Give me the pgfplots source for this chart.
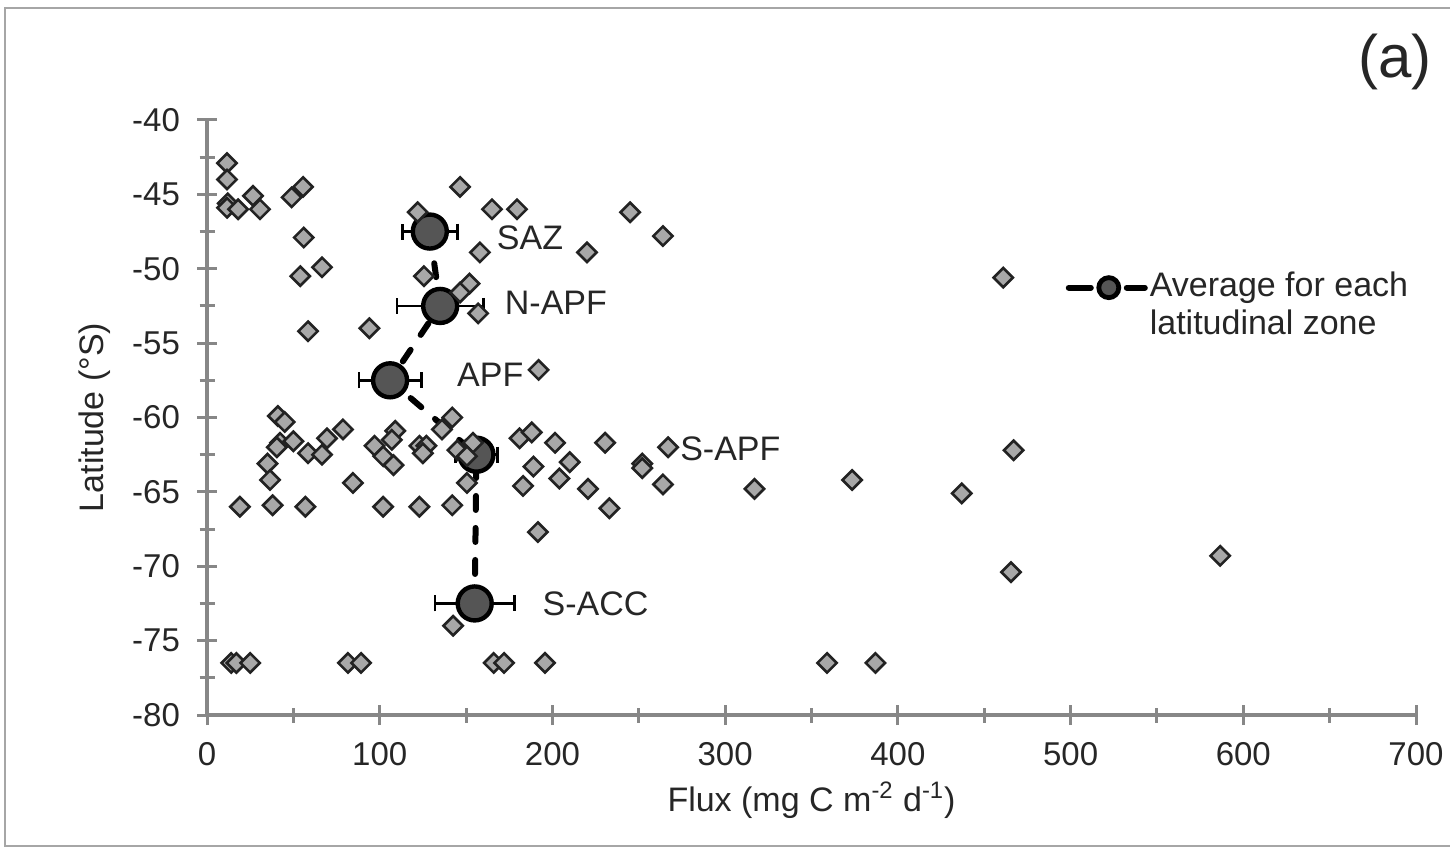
\documentclass[border=0pt]{standalone}
\usepackage{pgfplots}
\pgfplotsset{compat=1.18}
\usepackage{pgfplotstable}
\usepackage{fontspec}
\setmainfont{Liberation Sans}
\definecolor{axgray}{HTML}{878787}
\definecolor{dfill}{HTML}{A8A8A8}
\definecolor{dedge}{HTML}{222222}
\definecolor{afill}{HTML}{555555}
\definecolor{txt}{HTML}{262626}
\pgfplotstableread{
x y
11.6 -42.9
11.6 -44.0
12 -45.6
11.6 -45.9
18 -46.0
26.6 -45.1
30.7 -46.0
49 -45.2
55.6 -44.5
146.5 -44.5
122 -46.2
165 -46.0
179.5 -46.0
245 -46.2
264 -47.8
56 -47.9
158 -48.9
220 -48.9
54 -50.5
66.6 -49.9
125.6 -50.5
152 -51.0
146.5 -51.6
157 -53.0
58.5 -54.2
94 -54.0
461 -50.6
192 -56.8
41 -59.9
45 -60.3
42.3 -61.7
40.5 -62.0
50 -61.6
58.5 -62.4
66.6 -62.5
69.5 -61.4
78.7 -60.8
35 -63.1
36.5 -64.2
19 -66
38 -65.9
57 -66
84.5 -64.4
97 -61.9
102 -62.6
109 -60.9
107 -61.5
108 -63.2
102 -66
123 -61.9
127 -61.9
125 -62.4
123 -66
142 -60
136 -60.8
145 -62.2
154 -61.7
150.5 -62.6
150.5 -64.4
142 -65.9
181 -61.4
188 -61
189 -63.3
183 -64.6
191.6 -67.7
201.5 -61.7
230.5 -61.7
267 -62
210 -63
204 -64.1
220.6 -64.8
252 -63.1
252 -63.4
264 -64.5
233 -66.1
317 -64.8
373.5 -64.2
437 -65.1
467 -62.2
465.5 -70.4
586.6 -69.3
142.5 -74.0
14 -76.5
17 -76.5
25 -76.5
81.6 -76.5
89.2 -76.5
166 -76.5
172 -76.5
195.7 -76.5
359 -76.5
387 -76.5
}\scatterdata
\pgfplotstableread{
x y e
129 -47.5 16
135 -52.5 25
106 -57.5 18
156 -62.5 12
155 -72.5 23
}\avgdata
\begin{document}
\begin{tikzpicture}
\path[use as bounding box] (0,0) rectangle (725pt,425.5pt);
\draw[color=black!35, line width=1pt] (740pt,2.5pt) -- (2.5pt,2.5pt) -- (2.5pt,421.5pt) -- (740pt,421.5pt);
\node[font=\fontsize{30}{32}\selectfont, text=txt] at (697.5pt,394.5pt) {(a)};
\begin{axis}[
  at={(103.5pt,68pt)}, anchor=south west,
  width=604.5pt, height=297.5pt, scale only axis,
  xmin=0, xmax=700, ymin=-80, ymax=-40,
  clip=false,
  axis lines=left,
  axis line style={-, draw=axgray, line width=2pt},
  xtick={0,100,...,700}, ytick={-80,-75,...,-40},
  minor x tick num=1, minor y tick num=1,
  tick align=center,
  major tick length=10pt, minor tick length=7.5pt,
  tick style={draw=axgray, line width=1.5pt},
  ticklabel style={font=\fontsize{16.5}{18}\selectfont, text=txt},
  yticklabel style={xshift=-5pt},
  xticklabel style={yshift=-5pt},
  /pgf/number format/assume math mode=true,
  xlabel={Flux (mg C m\textsuperscript{-2} d\textsuperscript{-1})},
  ylabel={Latitude (°S)},
  label style={font=\fontsize{17}{19}\selectfont, text=txt},
  xlabel style={at={(axis description cs:0.5,-0.1429)}, anchor=center},
  ylabel style={at={(axis description cs:-0.0926,0.5)}, anchor=center},
  legend cell align=left,
  legend style={draw=none, fill=none, at={(axis cs:497,-50)}, anchor=north west,
    inner sep=0pt, row sep=0.5pt,
    font=\fontsize{17}{19}\selectfont, text=txt,
    nodes={inner sep=1pt, text height=12.5pt, text depth=4pt}},
]
\addplot[forget plot, draw=none, mark=none,
  error bars/.cd, x dir=both, x explicit, error mark=|,
  error bar style={draw=black, line width=1.4pt, solid},
  error mark options={draw=black, line width=1.4pt, mark size=4pt}]
  table[x=x, y=y, x error=e] {\avgdata};
\addplot[black, line width=3pt, line cap=round, dash pattern=on 7pt off 9pt,
  mark=*, mark size=8.5pt,
  mark options={solid, fill=afill, draw=black, line width=2.2pt},
  legend image code/.code={
    \draw[black, line width=3pt, solid, line cap=round] (1pt,0pt) -- (12pt,0pt) (30pt,0pt) -- (39pt,0pt);
    \filldraw[fill=afill, draw=black, line width=2.4pt, solid] (21pt,0pt) circle (5pt);
  }]
  table[x=x, y=y] {\avgdata};
\addlegendentry{Average for each}
\addlegendimage{empty legend}
\addlegendentry{latitudinal zone}
\addplot[forget plot, only marks, mark=square*, mark size=3.4pt,
  mark options={rotate=45, fill=dfill, draw=dedge, line width=1.3pt}]
  table[x=x, y=y] {\scatterdata};
\node[font=\fontsize{17}{19}\selectfont, text=txt] at (axis cs:187,-47.9) {SAZ};
\node[font=\fontsize{17}{19}\selectfont, text=txt] at (axis cs:202,-52.3) {N-APF};
\node[font=\fontsize{17}{19}\selectfont, text=txt] at (axis cs:164,-57.1) {APF};
\node[font=\fontsize{17}{19}\selectfont, text=txt] at (axis cs:303,-62.1) {S-APF};
\node[font=\fontsize{17}{19}\selectfont, text=txt] at (axis cs:225,-72.5) {S-ACC};
\end{axis}
\end{tikzpicture}
\end{document}
